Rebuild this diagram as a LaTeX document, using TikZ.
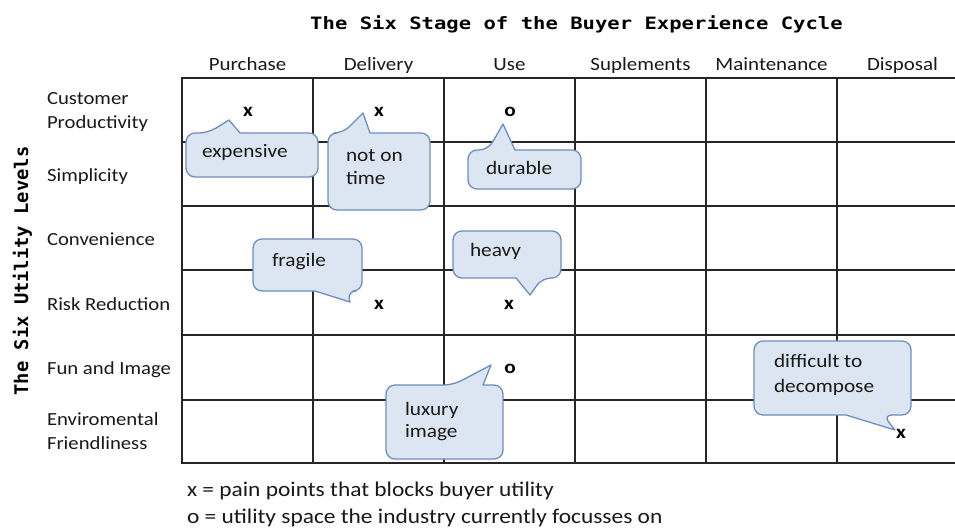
\documentclass[tikz,border=0pt]{standalone}
\usepackage{fontspec}
\setmainfont{Carlito}[FakeStretch=1.12]
\newfontfamily\titlefont{DejaVu Sans Mono}[FakeStretch=1.21]
\newfontfamily\axisfont{DejaVu Sans Mono}
\definecolor{cfill}{RGB}{220,230,242}
\definecolor{cdraw}{RGB}{108,142,191}
\newcommand\bubbleTop[8]{%
  \path[bubble] (#1,{(#2+#4)/2}) [rounded corners=9pt] -- (#1,#2) -- (#5,#2)
    [sharp corners] -- (#7,#8) -- (#6,#2) [rounded corners=9pt] -- (#3,#2) -- (#3,#4) -- (#1,#4) -- cycle;}
\newcommand\bubbleBot[8]{%
  \path[bubble] (#1,{(#2+#4)/2}) [rounded corners=9pt] -- (#1,#2) -- (#3,#2) -- (#3,#4) -- (#6,#4)
    [sharp corners] -- (#7,#8) -- (#5,#4) [rounded corners=9pt] -- (#1,#4) -- cycle;}
\begin{document}
\begin{tikzpicture}[x=1pt,y=-1pt,
  every node/.style={inner sep=0pt, outer sep=0pt, text=black!90},
  lab/.style={font=\fontsize{18.5}{24}\selectfont, anchor=base west},
  col/.style={font=\fontsize{18.7}{24}\selectfont, anchor=base},
  ctext/.style={font=\fontsize{19}{24}\selectfont, anchor=base west},
  marksym/.style={font=\fontsize{19}{24}\selectfont\bfseries, text=black},
  legend/.style={font=\fontsize{20.9}{27}\selectfont, anchor=base west},
  bubble/.style={fill=cfill, draw=cdraw, line width=1.3pt, line join=round},
  gridline/.style={draw=black!85, line width=1.2pt, line cap=rect}]
\useasboundingbox (0,0) rectangle (955,529);
\fill[white] (0,0) rectangle (955,529);

% grid
\begin{scope}
\clip (0,0) rectangle (955,529);
\foreach \x in {182,313,444,575,706,837,968} \draw[gridline] (\x,78) -- (\x,463);
\foreach \y in {78,142,206,270,335,400,463} \draw[gridline] (182,\y) -- (968,\y);
\end{scope}

% titles
\node[anchor=base, font=\titlefont\bfseries\fontsize{17}{20}\selectfont, text=black] (title) at (576.5,29.3) {The Six Stage of the Buyer Experience Cycle};
\node[anchor=base, rotate=90, font=\axisfont\bfseries\fontsize{18.8}{20}\selectfont, text=black] (ytitle) at (28,271) {The Six Utility Levels};

% column labels
\node[col] (c1) at (247.5,70.5) {Purchase};
\node[col] (c2) at (378.5,70.5) {Delivery};
\node[col] (c3) at (509.5,70.5) {Use};
\node[col] (c4) at (640.5,70.5) {Suplements};
\node[col] (c5) at (771.5,70.5) {Maintenance};
\node[col] (c6) at (902.5,70.5) {Disposal};

% row labels
\node[lab] (r1a) at (47,105) {Customer};
\node[lab] (r1b) at (47,128.5) {Productivity};
\node[lab] (r2) at (47,181.5) {Simplicity};
\node[lab] (r3) at (47,246) {Convenience};
\node[lab] (r4) at (47,310) {Risk Reduction};
\node[lab] (r5) at (47,374) {Fun and Image};
\node[lab] (r6a) at (47,425) {Enviromental};
\node[lab] (r6b) at (47,449) {Friendliness};

% callouts
\bubbleTop{186}{133}{318}{177}{208}{240}{229}{120}
\bubbleTop{328}{133}{430}{210}{343}{370}{363}{113}
\bubbleTop{468}{150}{581}{189}{488}{515}{503}{124}
\bubbleBot{453}{231}{561}{278}{516}{542}{530}{295}
\bubbleBot{253}{239}{362}{291}{315}{347}{350}{302}
\bubbleBot{754}{341}{911}{415}{846}{883}{895}{430}
\bubbleTop{386}{385}{503}{459}{453}{483}{491}{365}

\node[ctext] (t1) at (202,158) {expensive};
\node[ctext] (t2a) at (346,161.5) {not on};
\node[ctext] (t2b) at (346,185) {time};
\node[ctext] (t3) at (486,175) {durable};
\node[ctext] (t4) at (470,256.5) {heavy};
\node[ctext] (t5) at (272,266.5) {fragile};
\node[ctext] (t6a) at (774,367) {difficult to};
\node[ctext] (t6b) at (774,392) {decompose};
\node[ctext] (t7a) at (405,415.5) {luxury};
\node[ctext] (t7b) at (405,437) {image};

% marks
\node[marksym] (m1) at (248,112) {x};
\node[marksym] (m2) at (379,112) {x};
\node[marksym] (m3) at (510,112) {o};
\node[marksym] (m4) at (379,304.5) {x};
\node[marksym] (m5) at (509,304.5) {x};
\node[marksym] (m6) at (510,368.5) {o};
\node[marksym] (m7) at (901,433.5) {x};

% legend
\node[legend] (l1) at (187,496) {x = pain points that blocks buyer utility};
\node[legend] (l2) at (187,523) {o = utility space the industry currently focusses on};
\end{tikzpicture}
\end{document}
